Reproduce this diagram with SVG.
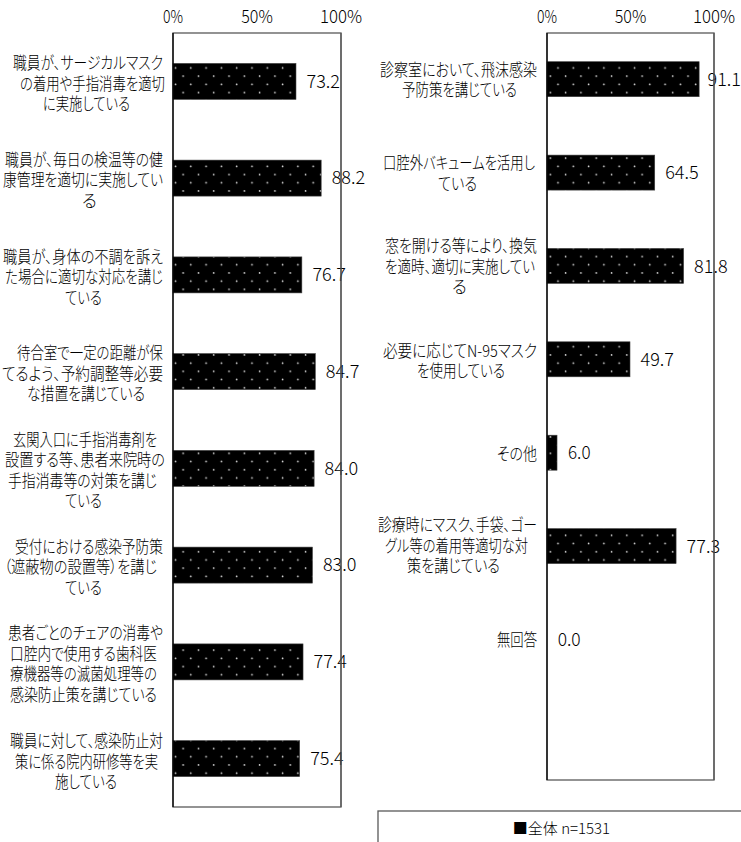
<svg xmlns="http://www.w3.org/2000/svg" width="741" height="842" viewBox="0 0 741 842">
<style>
.lbl{font-family:"Noto Sans CJK JP","Noto Sans",sans-serif;font-size:16.5px;font-weight:300;fill:#000;font-feature-settings:"palt"}
.val{font-family:"Noto Sans CJK JP","Noto Sans",sans-serif;font-size:18px;font-weight:300;fill:#000}
.ax{font-family:"Noto Sans CJK JP","Noto Sans",sans-serif;font-size:18px;font-weight:300;fill:#000;text-anchor:middle}
.box{fill:#fff;stroke:#595959;stroke-width:1.3}
.axis{stroke:#000;stroke-width:1.3}
.bar{fill:url(#dots);stroke:#404040;stroke-width:0.6}
.leg{font-family:"Noto Sans CJK JP","Noto Sans",sans-serif;font-size:15px;font-weight:300;fill:#000;text-anchor:middle}
</style>
<defs>
<pattern id="dots" patternUnits="userSpaceOnUse" x="173" y="0" width="15.3" height="16.4">
<rect width="15.3" height="16.4" fill="#000"/>
<circle cx="2.5" cy="2.3" r="0.85" fill="#e0e0e0"/>
<circle cx="10.15" cy="10.5" r="0.85" fill="#e0e0e0"/>
</pattern>
</defs>
<rect width="741" height="842" fill="#fff"/>

<g id="left-chart">
<rect class="box" x="173" y="33" width="168" height="774"/>
<text class="ax" x="173" y="23" textLength="20" lengthAdjust="spacingAndGlyphs">0%</text>
<text class="ax" x="257" y="23" textLength="31.5" lengthAdjust="spacingAndGlyphs">50%</text>
<text class="ax" x="341" y="23" textLength="42" lengthAdjust="spacingAndGlyphs">100%</text>
</g>
<g id="right-chart">
<rect class="box" x="547" y="33" width="167" height="747"/>
<text class="ax" x="547" y="23" textLength="20" lengthAdjust="spacingAndGlyphs">0%</text>
<text class="ax" x="630.5" y="23" textLength="31.5" lengthAdjust="spacingAndGlyphs">50%</text>
<text class="ax" x="714" y="23" textLength="42" lengthAdjust="spacingAndGlyphs">100%</text>
</g>

<g id="left-bars">
<g id="L1"><rect class="bar" x="173" y="63.4" width="122.98" height="36"/><text class="val" x="306.5" y="87.6" textLength="33.5" lengthAdjust="spacingAndGlyphs">73.2</text>
<text class="lbl"><tspan x="13" y="69.2" textLength="150" lengthAdjust="spacingAndGlyphs">職員が、サージカルマスク</tspan><tspan x="20" y="89.7" textLength="145" lengthAdjust="spacingAndGlyphs">の着用や手指消毒を適切</tspan><tspan x="43" y="110.2" textLength="87" lengthAdjust="spacingAndGlyphs">に実施している</tspan></text></g>
<g id="L2"><rect class="bar" x="173" y="160.1" width="148.18" height="36"/><text class="val" x="331.7" y="184.3" textLength="33.5" lengthAdjust="spacingAndGlyphs">88.2</text>
<text class="lbl"><tspan x="5" y="165.9" textLength="158" lengthAdjust="spacingAndGlyphs">職員が、毎日の検温等の健</tspan><tspan x="3" y="186.4" textLength="160" lengthAdjust="spacingAndGlyphs">康管理を適切に実施してい</tspan><tspan x="82" y="206.9">る</tspan></text></g>
<g id="L3"><rect class="bar" x="173" y="256.9" width="128.86" height="36"/><text class="val" x="312.4" y="281.1" textLength="33.5" lengthAdjust="spacingAndGlyphs">76.7</text>
<text class="lbl"><tspan x="3" y="262.7" textLength="160" lengthAdjust="spacingAndGlyphs">職員が、身体の不調を訴え</tspan><tspan x="5" y="283.2" textLength="158" lengthAdjust="spacingAndGlyphs">た場合に適切な対応を講じ</tspan><tspan x="65" y="303.7" textLength="37" lengthAdjust="spacingAndGlyphs">ている</tspan></text></g>
<g id="L4"><rect class="bar" x="173" y="353.6" width="142.3" height="36"/><text class="val" x="325.8" y="377.8" textLength="33.5" lengthAdjust="spacingAndGlyphs">84.7</text>
<text class="lbl"><tspan x="17" y="359.4" textLength="146" lengthAdjust="spacingAndGlyphs">待合室で一定の距離が保</tspan><tspan x="2" y="379.9" textLength="161" lengthAdjust="spacingAndGlyphs">てるよう、予約調整等必要</tspan><tspan x="27" y="400.4" textLength="118" lengthAdjust="spacingAndGlyphs">な措置を講じている</tspan></text></g>
<g id="L5"><rect class="bar" x="173" y="450.4" width="141.12" height="36"/><text class="val" x="324.6" y="474.6" textLength="33.5" lengthAdjust="spacingAndGlyphs">84.0</text>
<text class="lbl"><tspan x="13" y="445.9" textLength="144" lengthAdjust="spacingAndGlyphs">玄関入口に手指消毒剤を</tspan><tspan x="5" y="466.4" textLength="160" lengthAdjust="spacingAndGlyphs">設置する等、患者来院時の</tspan><tspan x="8" y="486.9" textLength="149" lengthAdjust="spacingAndGlyphs">手指消毒等の対策を講じ</tspan><tspan x="65" y="507.4" textLength="37" lengthAdjust="spacingAndGlyphs">ている</tspan></text></g>
<g id="L6"><rect class="bar" x="173" y="547.1" width="139.44" height="36"/><text class="val" x="322.9" y="571.3" textLength="33.5" lengthAdjust="spacingAndGlyphs">83.0</text>
<text class="lbl"><tspan x="15" y="552.9" textLength="148" lengthAdjust="spacingAndGlyphs">受付における感染予防策</tspan><tspan x="4" y="573.4" textLength="153" lengthAdjust="spacingAndGlyphs">（遮蔽物の設置等）を講じ</tspan><tspan x="65" y="593.9" textLength="37" lengthAdjust="spacingAndGlyphs">ている</tspan></text></g>
<g id="L7"><rect class="bar" x="173" y="643.9" width="130.03" height="36"/><text class="val" x="313.5" y="668.1" textLength="33.5" lengthAdjust="spacingAndGlyphs">77.4</text>
<text class="lbl"><tspan x="8" y="639.4" textLength="155" lengthAdjust="spacingAndGlyphs">患者ごとのチェアの消毒や</tspan><tspan x="10" y="659.9" textLength="147" lengthAdjust="spacingAndGlyphs">口腔内で使用する歯科医</tspan><tspan x="10" y="680.4" textLength="147" lengthAdjust="spacingAndGlyphs">療機器等の滅菌処理等の</tspan><tspan x="10" y="700.9" textLength="147" lengthAdjust="spacingAndGlyphs">感染防止策を講じている</tspan></text></g>
<g id="L8"><rect class="bar" x="173" y="740.6" width="126.67" height="36"/><text class="val" x="310.2" y="764.8" textLength="33.5" lengthAdjust="spacingAndGlyphs">75.4</text>
<text class="lbl"><tspan x="10" y="747" textLength="153" lengthAdjust="spacingAndGlyphs">職員に対して、感染防止対</tspan><tspan x="15" y="767.5" textLength="143" lengthAdjust="spacingAndGlyphs">策に係る院内研修等を実</tspan><tspan x="55" y="788" textLength="62" lengthAdjust="spacingAndGlyphs">施している</tspan></text></g>
</g>

<g id="right-bars">
<g id="R1"><rect class="bar" x="547" y="61.7" width="152.14" height="35"/><text class="val" x="707.5" y="85.9" textLength="33.5" lengthAdjust="spacingAndGlyphs">91.1</text>
<text class="lbl"><tspan x="380" y="75.5" textLength="157" lengthAdjust="spacingAndGlyphs">診察室において、飛沫感染</tspan><tspan x="402" y="96" textLength="115" lengthAdjust="spacingAndGlyphs">予防策を講じている</tspan></text></g>
<g id="R2"><rect class="bar" x="547" y="155.1" width="107.72" height="35"/><text class="val" x="665.2" y="179.3" textLength="33.5" lengthAdjust="spacingAndGlyphs">64.5</text>
<text class="lbl"><tspan x="383" y="169.3" textLength="152" lengthAdjust="spacingAndGlyphs">口腔外バキュームを活用し</tspan><tspan x="438" y="189.5" textLength="39" lengthAdjust="spacingAndGlyphs">ている</tspan></text></g>
<g id="R3"><rect class="bar" x="547" y="248.4" width="136.61" height="35"/><text class="val" x="694.1" y="272.6" textLength="33.5" lengthAdjust="spacingAndGlyphs">81.8</text>
<text class="lbl"><tspan x="385" y="252.2" textLength="152" lengthAdjust="spacingAndGlyphs">窓を開ける等により、換気</tspan><tspan x="385" y="272.7" textLength="150" lengthAdjust="spacingAndGlyphs">を適時、適切に実施してい</tspan><tspan x="452" y="293.2">る</tspan></text></g>
<g id="R4"><rect class="bar" x="547" y="341.8" width="83" height="35"/><text class="val" x="640.5" y="366" textLength="33.5" lengthAdjust="spacingAndGlyphs">49.7</text>
<text class="lbl"><tspan x="383" y="357" textLength="154" lengthAdjust="spacingAndGlyphs">必要に応じてN-95マスク</tspan><tspan x="417" y="377.3" textLength="88" lengthAdjust="spacingAndGlyphs">を使用している</tspan></text></g>
<g id="R5"><rect class="bar" x="547" y="435.2" width="10.02" height="35"/><text class="val" x="568" y="459.4" textLength="22.5" lengthAdjust="spacingAndGlyphs">6.0</text>
<text class="lbl" x="497" y="459.5" textLength="40" lengthAdjust="spacingAndGlyphs">その他</text></g>
<g id="R6"><rect class="bar" x="547" y="528.6" width="129.09" height="35"/><text class="val" x="686.6" y="552.8" textLength="33.5" lengthAdjust="spacingAndGlyphs">77.3</text>
<text class="lbl"><tspan x="378" y="531" textLength="159" lengthAdjust="spacingAndGlyphs">診療時にマスク、手袋、ゴー</tspan><tspan x="385" y="551.5" textLength="143" lengthAdjust="spacingAndGlyphs">グル等の着用等適切な対</tspan><tspan x="407" y="572" textLength="93" lengthAdjust="spacingAndGlyphs">策を講じている</tspan></text></g>
<g id="R7"><text class="val" x="557.7" y="646.1" textLength="23" lengthAdjust="spacingAndGlyphs">0.0</text>
<text class="lbl" x="497" y="646.2" textLength="40" lengthAdjust="spacingAndGlyphs">無回答</text></g>
</g>

<g id="axes">
<line class="axis" x1="173" y1="33" x2="173" y2="807"/>
<line class="axis" x1="547" y1="33" x2="547" y2="780"/>
<line x1="341" y1="33" x2="341" y2="807" stroke="#595959" stroke-width="1.3"/>
<line x1="714" y1="33" x2="714" y2="780" stroke="#595959" stroke-width="1.3"/>
</g>

<g id="legend">
<rect x="378" y="811" width="370" height="40" fill="#fff" stroke="#595959" stroke-width="1.3"/>
<text class="leg" x="561.5" y="834">■全体 n=1531</text>
</g>
</svg>
